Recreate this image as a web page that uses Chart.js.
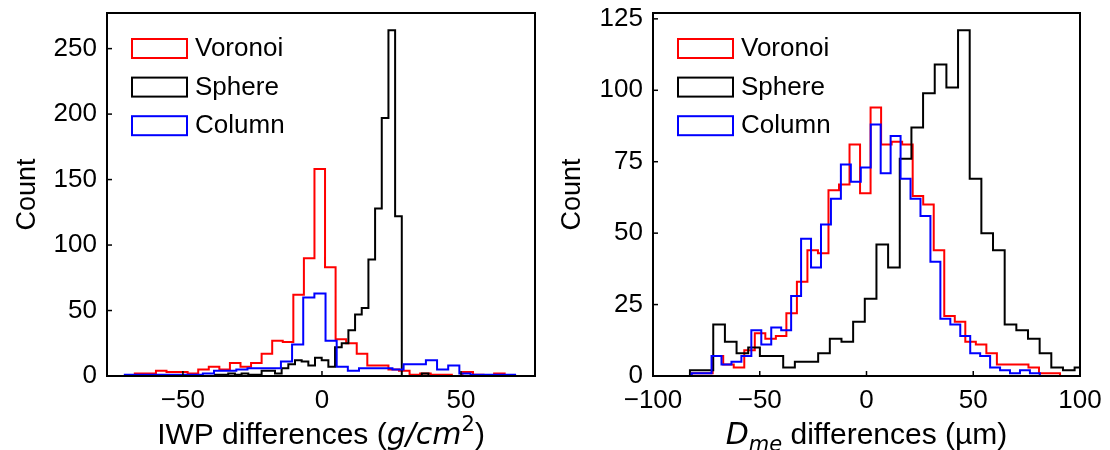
<!DOCTYPE html>
<html><head><meta charset="utf-8">
<script src="https://cdn.jsdelivr.net/npm/chart.js@4/dist/chart.umd.min.js"></script>
<style>
html,body{margin:0;padding:0;background:#fff;}
#wrap{position:relative;width:1110px;height:450px;background:#fff;}
.c{position:absolute;top:0;}
</style></head><body>
<div id="wrap">
<canvas id="left" class="c" style="left:0" width="550" height="450"></canvas>
<canvas id="right" class="c" style="left:550px" width="560" height="450"></canvas>
</div>
<script>
// ---------- shared ----------
const seriesNames = ['Voronoi', 'Sphere', 'Column'];
const seriesColors = ['#ff0000', '#000000', '#0000ff'];

// ---------- left panel: IWP differences (histogram counts per bin) ----------
const iwpVoronoiStart = -67.3, iwpVoronoiWidth = 3.80;
const iwpVoronoiCounts = [2,2,4,3,3,2,5,7,5,10,7,10,17,27,26,62,90,158,83,28,25,17,8,8,5,4,1,2,1,1,0,3,1,0,2];
const iwpSphereStart = -38.5, iwpSphereWidth = 2.40;
const iwpSphereCounts = [1,1,2,1,2,1,1,4,4,2,6,9,12,11,8,14,12,7,22,25,35,47,52,89,128,197,264,122,0,0,0,2];
const iwpColumnStart = -70.9, iwpColumnWidth = 4.01;
const iwpColumnCounts = [1,1,1,1,1,1,1,2,4,4,5,6,6,6,11,24,60,63,27,7,4,6,6,6,5,9,9,12,5,8,2,1,1,1,1];
const iwpXTicks = [-50, 0, 50];
const iwpYTicks = [0, 50, 100, 150, 200, 250];
const iwpXRange = [-77.3, 76.6];
const iwpYRange = [0, 277.2];

// ---------- right panel: Dme differences ----------
const dmeVoronoiStart = -81.9, dmeVoronoiWidth = 4.93;
const dmeVoronoiCounts = [1,1,7,4,3,9,15,13,14,22,33,44,43,65,67,81,64,94,81,82,81,63,60,44,21,19,12,11,8,4,4,4,3,1,1];
const dmeSphereStart = -82.7, dmeSphereWidth = 5.46;
const dmeSphereCounts = [2,2,18,12,8,10,7,7,3,5,5,8,13,12,19,27,46,38,76,87,99,109,101,121,69,50,44,18,16,13,8,3,2,3];
const dmeColumnStart = -81.9, dmeColumnWidth = 4.66;
const dmeColumnCounts = [1,1,7,4,5,7,16,11,17,16,28,48,38,53,62,74,68,73,88,71,84,69,62,56,40,20,18,14,8,7,3,2,1,2,1];
const dmeXTicks = [-100, -50, 0, 50, 100];
const dmeYTicks = [0, 25, 50, 75, 100, 125];
const dmeXRange = [-100, 100];
const dmeYRange = [0, 127.05];

const FONT = '"Liberation Sans", Arial, sans-serif';
const FS = 26;      // ticks and legend
const FS_T = 30;    // x-axis titles
const FS_Y = 27;    // y-axis title

// step outline of a histogram: (edge0,0) -> up to count, across ... down at last edge
function histPoints(start, width, counts) {
  const pts = [{x: start, y: 0}];
  counts.forEach((c, i) => pts.push({x: start + (i + 1) * width, y: c}));
  pts.push({x: start + counts.length * width, y: 0});
  return pts;
}

function fmt(v) { return v < 0 ? '\u2212' + Math.abs(v) : String(v); }

const framePlugin = {
  id: 'frame',
  afterDraw(chart, args, opts) {
    const ctx = chart.ctx, a = chart.chartArea;
    const xs = chart.scales.x, ys = chart.scales.y;
    ctx.save();
    ctx.strokeStyle = '#000';
    // inward tick marks
    ctx.lineWidth = 1.5;
    xs.ticks.forEach(t => {
      const px = xs.getPixelForValue(t.value);
      ctx.beginPath(); ctx.moveTo(px, a.bottom); ctx.lineTo(px, a.bottom - 5); ctx.stroke();
    });
    ys.ticks.forEach(t => {
      const py = ys.getPixelForValue(t.value);
      ctx.beginPath(); ctx.moveTo(a.left, py); ctx.lineTo(a.left + 5, py); ctx.stroke();
    });
    // frame
    ctx.lineWidth = 2;
    ctx.strokeRect(a.left, a.top, a.right - a.left, a.bottom - a.top);
    // legend (outlined boxes)
    const lx = a.left + 25, ly = a.top + 26, step = 38.6;
    ctx.font = FS + 'px ' + FONT;
    ctx.textBaseline = 'middle';
    ctx.textAlign = 'left';
    chart.data.datasets.forEach((d, i) => {
      ctx.strokeStyle = d.borderColor;
      ctx.lineWidth = 2;
      ctx.strokeRect(lx, ly + i * step, 55, 19);
      ctx.fillStyle = '#000';
      ctx.fillText(d.label, lx + 63, ly + i * step + 10);
    });
    // x-axis title (rich text)
    const parts = opts.title;
    let total = 0;
    const items = parts.map(p => {
      const s = (p.sup || p.sub) ? FS_T * 0.7 : FS_T;
      const f = (p.it ? 'italic ' : '') + s + 'px ' + (p.math ? '"DejaVu Sans", ' : '') + FONT;
      ctx.font = f;
      const w = ctx.measureText(p.t).width;
      total += w;
      return {p, f, w};
    });
    let x = (a.left + a.right) / 2 - total / 2;
    ctx.textBaseline = 'alphabetic';
    ctx.fillStyle = '#000';
    items.forEach(it => {
      ctx.font = it.f;
      const dy = it.p.sup ? -FS_T * 0.42 : (it.p.sub ? FS_T * 0.22 : 0);
      ctx.fillText(it.p.t, x, opts.titleY + dy);
      x += it.w;
    });
    ctx.restore();
  }
};

function makeChart(id, sets, xr, yr, xt, yt, title, yAxisWidth, padRight, titlePad) {
  const datasets = sets.map((s, i) => ({
    label: seriesNames[i],
    data: histPoints(s[0], s[1], s[2]),
    borderColor: seriesColors[i],
    backgroundColor: seriesColors[i],
    borderWidth: 2,
    fill: false,
    stepped: 'after',
    pointRadius: 0,
    order: 3 - i,
    clip: 0
  }));
  return new Chart(document.getElementById(id), {
    type: 'line',
    data: {datasets},
    plugins: [framePlugin],
    options: {
      responsive: false, animation: false, devicePixelRatio: 1,
      layout: {padding: {top: 13, right: padRight, left: 0, bottom: 0}},
      plugins: {legend: {display: false}, tooltip: {enabled: false},
                frame: {title, titleY: 444}},
      scales: {
        x: {
          type: 'linear', min: xr[0], max: xr[1],
          grid: {display: false, drawTicks: false}, border: {display: false},
          ticks: {font: {family: FONT, size: FS}, color: '#000', padding: 9,
                  maxRotation: 0, autoSkip: false, callback: v => fmt(v)},
          afterBuildTicks: s => { s.ticks = xt.map(v => ({value: v})); },
          afterFit: s => { s.height = 74; s.paddingLeft = 0; s.paddingRight = 0; }
        },
        y: {
          type: 'linear', min: yr[0], max: yr[1],
          grid: {display: false, drawTicks: false}, border: {display: false},
          ticks: {font: {family: FONT, size: FS}, color: '#000', padding: 10,
                  autoSkip: false, callback: v => fmt(v)},
          afterBuildTicks: s => { s.ticks = yt.map(v => ({value: v})); },
          afterFit: s => { s.width = yAxisWidth; s.paddingTop = 0; s.paddingBottom = 0; },
          title: {display: true, text: 'Count', color: '#000',
                  font: {family: FONT, size: FS_Y}, padding: {top: titlePad, bottom: 0}}
        }
      }
    }
  });
}

makeChart('left',
  [[iwpVoronoiStart, iwpVoronoiWidth, iwpVoronoiCounts],
   [iwpSphereStart, iwpSphereWidth, iwpSphereCounts],
   [iwpColumnStart, iwpColumnWidth, iwpColumnCounts]],
  iwpXRange, iwpYRange, iwpXTicks, iwpYTicks,
  [{t: 'IWP differences ('}, {t: 'g/cm', it: true, math: true}, {t: '2', sup: true, math: true}, {t: ')'}],
  107, 15, 11);

makeChart('right',
  [[dmeVoronoiStart, dmeVoronoiWidth, dmeVoronoiCounts],
   [dmeSphereStart, dmeSphereWidth, dmeSphereCounts],
   [dmeColumnStart, dmeColumnWidth, dmeColumnCounts]],
  dmeXRange, dmeYRange, dmeXTicks, dmeYTicks,
  [{t: 'D', it: true, math: true}, {t: 'me', it: true, sub: true, math: true}, {t: ' differences (\u00b5m)'}],
  103, 30, 6);
</script>
</body></html>
